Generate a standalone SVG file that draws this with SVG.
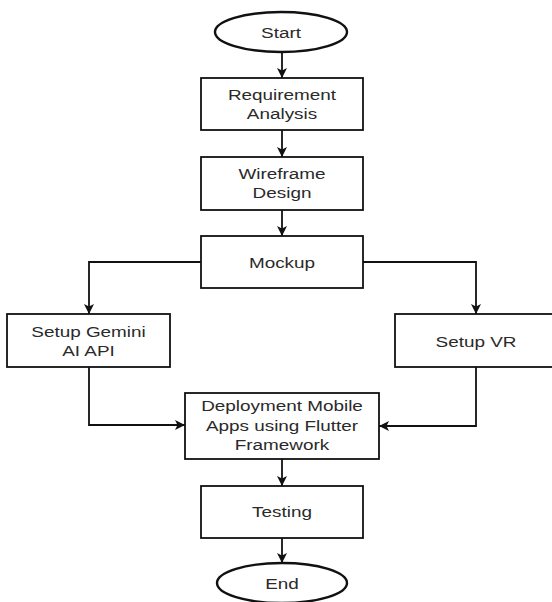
<svg xmlns="http://www.w3.org/2000/svg" width="552" height="602" viewBox="0 0 552 602">
<style>
.box{fill:#fff;stroke:#111;stroke-width:1.8}
.term{fill:#fff;stroke:#111;stroke-width:2.4}
.lbl{font-family:"Liberation Sans",Arial,sans-serif;font-size:15.5px;fill:#2a2a2a;text-anchor:middle}
.edge{fill:none;stroke:#111;stroke-width:1.8}
</style>
<defs>
<marker id="arr" markerUnits="userSpaceOnUse" markerWidth="12" markerHeight="12" viewBox="0 0 12 12" refX="11" refY="6" orient="auto">
<path d="M1,1 L11,6 L1,11 L3.5,6 z" fill="#111"/>
</marker>
</defs>
<rect width="552" height="602" fill="#fff"/>
<g id="connectors">
<path class="edge" d="M282,52 V78" marker-end="url(#arr)"/>
<path class="edge" d="M282,130 V157" marker-end="url(#arr)"/>
<path class="edge" d="M282,210 V236" marker-end="url(#arr)"/>
<path class="edge" d="M201,262 H89 V314" marker-end="url(#arr)"/>
<path class="edge" d="M363,262 H476 V314" marker-end="url(#arr)"/>
<path class="edge" d="M89,367 V425 H185" marker-end="url(#arr)"/>
<path class="edge" d="M476,367 V426 H379" marker-end="url(#arr)"/>
<path class="edge" d="M282,459 V486" marker-end="url(#arr)"/>
<path class="edge" d="M282,538 V563" marker-end="url(#arr)"/>
</g>
<g id="start">
<ellipse class="term" cx="281" cy="32" rx="66" ry="20"/>
<text class="lbl" transform="translate(281,37.5) scale(1.22,1)">Start</text>
</g>
<g id="requirement">
<rect class="box" x="201" y="78" width="162" height="52"/>
<text class="lbl" transform="translate(282,100) scale(1.22,1)">Requirement</text>
<text class="lbl" transform="translate(282,118.5) scale(1.22,1)">Analysis</text>
</g>
<g id="wireframe">
<rect class="box" x="201" y="157" width="162" height="53"/>
<text class="lbl" transform="translate(282,179) scale(1.22,1)">Wireframe</text>
<text class="lbl" transform="translate(282,197.5) scale(1.22,1)">Design</text>
</g>
<g id="mockup">
<rect class="box" x="201" y="236" width="162" height="52"/>
<text class="lbl" transform="translate(282,267.5) scale(1.22,1)">Mockup</text>
</g>
<g id="gemini">
<rect class="box" x="7" y="314" width="163" height="53"/>
<text class="lbl" transform="translate(88.5,337) scale(1.22,1)">Setup Gemini</text>
<text class="lbl" transform="translate(88.5,356) scale(1.22,1)">AI API</text>
</g>
<g id="vr">
<rect class="box" x="395" y="314" width="165" height="53"/>
<text class="lbl" transform="translate(476,346.5) scale(1.22,1)">Setup VR</text>
</g>
<g id="deployment">
<rect class="box" x="185" y="393" width="194" height="66"/>
<text class="lbl" transform="translate(282,411) scale(1.22,1)">Deployment Mobile</text>
<text class="lbl" transform="translate(282,430.5) scale(1.22,1)">Apps using Flutter</text>
<text class="lbl" transform="translate(282,450) scale(1.22,1)">Framework</text>
</g>
<g id="testing">
<rect class="box" x="201" y="486" width="162" height="52"/>
<text class="lbl" transform="translate(282,517) scale(1.22,1)">Testing</text>
</g>
<g id="end">
<ellipse class="term" cx="282" cy="583" rx="65" ry="20"/>
<text class="lbl" transform="translate(282,588.5) scale(1.22,1)">End</text>
</g>
</svg>
